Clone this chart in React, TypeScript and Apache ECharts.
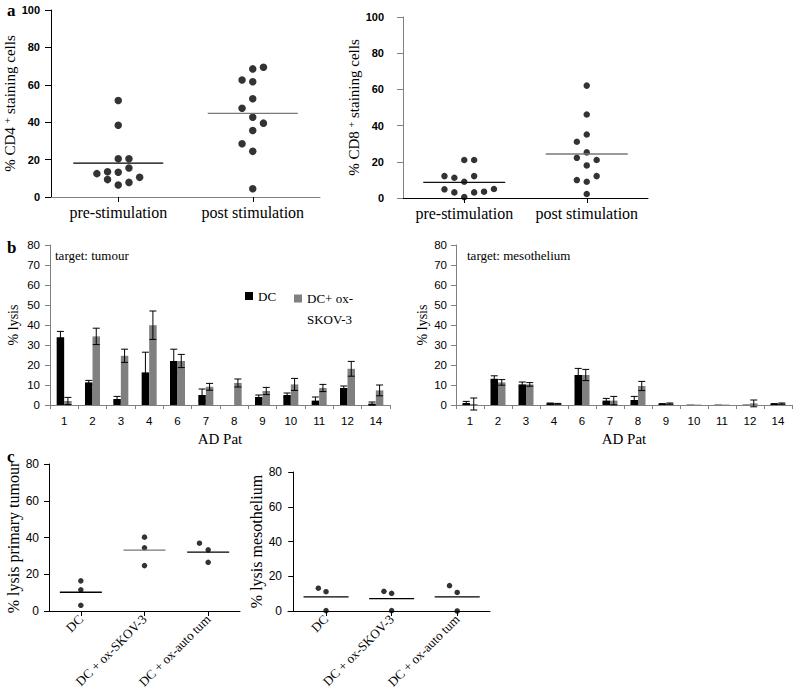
import React, { useEffect, useRef } from 'react';
import * as echarts from 'echarts';

const SERIF = '"Liberation Serif", "Times New Roman", serif';
const SANS = '"Liberation Sans", Arial, Helvetica, sans-serif';

// ---- Panel a ----
const stimGroups = ['pre-stimulation', 'post stimulation'];
const cd4Pre = [51.6, 38.4, 20.5, 20.5, 15.5, 12.5, 13.5, 13.2, 9.3, 10.5, 7.8, 6.4];
const cd4PreCols = [0, 0, 0, 1, 1, -2, -1, 0, -1, 2, 1, 0];
const cd4Post = [4.4, 24.4, 28.5, 35.6, 39.5, 42.7, 47.5, 52.5, 62.6, 61.6, 68.5, 69.4];
const cd4PostCols = [0, 0, -1, 0, 1, 0, -1, 0, -1, 0, 0, 1];
const cd4Means = [18.1, 44.7];
const cd8Pre = [21, 21, 12.1, 11.2, 12.1, 9, 4.8, 3.1, 3.1, 3.5, 5, 0.5];
const cd8PreCols = [0, 1, -2, -1, 1, 0, -2, -1, 1, 2, 3, 0];
const cd8Post = [62.1, 46.1, 35.1, 31.1, 25.2, 22.2, 21, 18, 12.1, 9.9, 9, 2.2];
const cd8PostCols = [0, 0, 0, -1, 0, -1, 1, 0, 1, -1, 0, 0];
const cd8Means = [8.6, 24.3];

// ---- Panel b ----
const adPatients = ['1', '2', '3', '4', '6', '7', '8', '9', '10', '11', '12', '14'];
const tumourDC = [33.9, 11.3, 3.0, 16.3, 22.0, 5.0, 0, 4.0, 5.0, 2.2, 8.5, 0.7];
const tumourDCErr = [2.9, 1.0, 1.3, 10.1, 5.9, 3.0, 0, 1.0, 1.0, 1.8, 1.0, 0.8];
const tumourOx = [2.0, 34.3, 24.6, 39.9, 22.0, 9.1, 11.0, 7.0, 10.3, 8.5, 18.1, 7.3];
const tumourOxErr = [1.8, 4.1, 3.3, 7.1, 3.3, 1.7, 2.0, 1.8, 3.0, 1.8, 3.7, 2.7];
const mesoDC = [1.0, 13.1, 10.3, 0.8, 15.0, 2.2, 2.5, 0.5, 0.2, 0.2, 0.2, 0.5];
const mesoDCErr = [0.8, 1.5, 1.2, 0.2, 3.3, 1.1, 1.8, 0.2, 0, 0, 0, 0.2];
const mesoOx = [0.5, 11.3, 10.3, 0.6, 15.0, 2.2, 9.5, 0.7, 0.2, 0.2, 0.8, 0.7];
const mesoOxErr = [3.0, 1.4, 0.9, 0.2, 2.8, 2.1, 2.3, 0.3, 0, 0, 1.7, 0.3];

// ---- Panel c ----
const lysisGroups = ['DC', 'DC + ox-SKOV-3', 'DC + ox-auto tum'];
const tumourLysis = [
  [16.4, 11.5, 3.1],
  [40.2, 34.4, 24.7],
  [36.9, 33.3, 26.5],
];
const tumourLysisCols = [
  [0, 0, 0],
  [0, 0, 0],
  [-1, 0, 0],
];
const tumourLysisMeans = [10.2, 33.1, 32.0];
const mesoLysis = [
  [13.1, 11.1, 0.2],
  [11.3, 10.2, 0.2],
  [14.6, 10.7, 0.0],
];
const mesoLysisCols = [
  [-1, 0, 0],
  [-1, 0, 0],
  [-1, 0, 0],
];
const mesoLysisMeans = [8.1, 7.1, 8.1];

const dots = (groupIdx: number, values: number[], cols: number[], spacing: number) =>
  values.map((v, i) => ({ value: [groupIdx + 0.5, v], symbolOffset: [cols[i] * spacing, 0] }));

const meanLines = (xi: number, means: number[], halfWidth: number, colors: string[]) => ({
  type: 'custom',
  xAxisIndex: xi,
  yAxisIndex: xi,
  z: 3,
  data: means.map((m, i) => [i + 0.5, m]),
  encode: { x: 0, y: 1 },
  renderItem: (params: any, api: any) => {
    const p = api.coord([api.value(0), api.value(1)]);
    return {
      type: 'line',
      shape: { x1: p[0] - halfWidth, y1: p[1], x2: p[0] + halfWidth, y2: p[1] },
      style: { stroke: colors[params.dataIndex], lineWidth: 1.3 },
    };
  },
});

const errBars = (xi: number, vals: number[], errs: number[], offset: number) => ({
  type: 'custom',
  xAxisIndex: xi,
  yAxisIndex: xi,
  z: 5,
  data: vals.map((v, i) => [i, v, errs[i]]),
  encode: { x: 0, y: 1 },
  renderItem: (params: any, api: any) => {
    const idx = api.value(0);
    const v = api.value(1) as number;
    const e = api.value(2) as number;
    if (!e) return { type: 'group', children: [] };
    const t = api.coord([idx, v + e]);
    const b = api.coord([idx, v - e]);
    const x = t[0] + offset;
    const cap = 3.5;
    const st = { stroke: '#000', lineWidth: 1 };
    return {
      type: 'group',
      children: [
        { type: 'line', shape: { x1: x, y1: t[1], x2: x, y2: b[1] }, style: st },
        { type: 'line', shape: { x1: x - cap, y1: t[1], x2: x + cap, y2: t[1] }, style: st },
        { type: 'line', shape: { x1: x - cap, y1: b[1], x2: x + cap, y2: b[1] }, style: st },
      ],
    };
  },
});

const groupXAxis = (gridIndex: number, names: string[], min: number, max: number, color: string, label: any) => {
  const centers = names.map((_, i) => i + 0.5);
  return {
    type: 'value',
    gridIndex,
    min,
    max,
    splitLine: { show: false },
    axisLine: { show: true, onZero: false, lineStyle: { color, width: 1 } },
    axisTick: { show: true, customValues: centers, length: 5, lineStyle: { color: '#000' } },
    axisLabel: {
      customValues: centers,
      formatter: (v: number) => names[Math.round(v - 0.5)] ?? '',
      color: '#000',
      ...label,
    },
  };
};

const yAxis = (gridIndex: number, max: number, interval: number, cfg: any) => ({
  type: 'value',
  gridIndex,
  min: 0,
  max,
  interval,
  splitLine: { show: false },
  axisLine: { show: true, lineStyle: { color: cfg.lineColor, width: 1 } },
  axisTick: { show: true, length: cfg.tickLen ?? 5, lineStyle: { color: cfg.lineColor } },
  axisLabel: {
    color: '#000',
    fontFamily: SANS,
    fontSize: cfg.fontSize,
    fontWeight: cfg.fontWeight ?? 'normal',
    margin: cfg.margin,
  },
  name: cfg.name,
  nameLocation: 'middle',
  nameRotate: 90,
  nameGap: cfg.nameGap,
  nameTextStyle: cfg.nameTextStyle,
});

const catXAxis = (gridIndex: number) => ({
  type: 'category',
  gridIndex,
  data: adPatients,
  axisLine: { show: true, lineStyle: { color: '#808080', width: 1 } },
  axisTick: { show: true, length: 4, lineStyle: { color: '#808080' } },
  axisLabel: { color: '#000', fontFamily: SANS, fontSize: 11.5, margin: 10, interval: 0 },
  name: 'AD Pat',
  nameLocation: 'middle',
  nameGap: 26,
  nameTextStyle: { fontFamily: SERIF, fontSize: 15, color: '#000' },
});

const serifName = (size: number) => ({ fontFamily: SERIF, fontSize: size, color: '#000' });

const supName = (cd: string) => ({
  name: `{t|% ${cd} }{s|+}{t| staining cells}`,
  nameTextStyle: {
    color: '#000',
    fontFamily: SERIF,
    rich: {
      t: { fontFamily: SERIF, fontSize: 15, color: '#000' },
      s: { fontFamily: SERIF, fontSize: 10, color: '#000', verticalAlign: 'top' },
    },
  },
});

export default function App() {
  const ref = useRef<HTMLDivElement>(null);
  useEffect(() => {
    document.body.style.margin = '0';
    const chart = echarts.init(ref.current!, null, { renderer: 'svg' });
    const option: any = {
      animation: false,
      backgroundColor: '#fff',
      grid: [
        { left: 51, top: 10, width: 269, height: 187 },
        { left: 403, top: 17, width: 245, height: 181 },
        { left: 50, top: 245, width: 340, height: 160 },
        { left: 456, top: 245, width: 336, height: 160 },
        { left: 49, top: 464, width: 191, height: 147 },
        { left: 288, top: 472, width: 202, height: 139 },
      ],
      legend: [
        {
          data: ['DC'],
          left: 245,
          top: 289.5,
          padding: 0,
          itemWidth: 8,
          itemHeight: 8,
          icon: 'rect',
          selectedMode: false,
          textStyle: { fontFamily: SERIF, fontSize: 13, color: '#000' },
        },
        {
          data: ['DC+ ox-SKOV-3'],
          left: 294,
          top: 267,
          padding: 0,
          itemWidth: 8,
          itemHeight: 8,
          icon: 'rect',
          selectedMode: false,
          formatter: () => '\nDC+ ox-\nSKOV-3',
          textStyle: { fontFamily: SERIF, fontSize: 13, color: '#000', lineHeight: 21 },
        },
      ],
      xAxis: [
        groupXAxis(0, stimGroups, 0, 2, '#808080', { fontFamily: SERIF, fontSize: 16, margin: 7 }),
        groupXAxis(1, stimGroups, 0, 2, '#000', { fontFamily: SERIF, fontSize: 16, margin: 7 }),
        catXAxis(2),
        catXAxis(3),
        groupXAxis(4, lysisGroups, 0, 3, '#000', { fontFamily: SERIF, fontSize: 13, rotate: 45, margin: 6 }),
        groupXAxis(5, lysisGroups, -0.08, 3, '#000', { fontFamily: SERIF, fontSize: 13, rotate: 45, margin: 6 }),
      ],
      yAxis: [
        yAxis(0, 100, 20, {
          lineColor: '#000', fontSize: 11, fontWeight: 'bold', margin: 11, tickLen: 6, nameGap: 31,
          ...supName('CD4'),
        }),
        yAxis(1, 100, 20, {
          lineColor: '#808080', fontSize: 11, fontWeight: 'bold', margin: 19, tickLen: 6, nameGap: 32,
          ...supName('CD8'),
        }),
        yAxis(2, 80, 10, {
          lineColor: '#808080', fontSize: 11.5, margin: 10, nameGap: 30,
          name: '% lysis', nameTextStyle: serifName(14),
        }),
        yAxis(3, 80, 10, {
          lineColor: '#808080', fontSize: 11.5, margin: 9, nameGap: 27,
          name: '% lysis', nameTextStyle: serifName(14),
        }),
        yAxis(4, 80, 20, {
          lineColor: '#000', fontSize: 12, margin: 10, nameGap: 27,
          name: '% lysis primary tumour', nameTextStyle: serifName(16),
        }),
        yAxis(5, 80, 20, {
          lineColor: '#000', fontSize: 12, margin: 6, nameGap: 20,
          name: '% lysis mesothelium', nameTextStyle: serifName(16),
        }),
      ],
      series: [
        // panel a left
        {
          type: 'scatter', xAxisIndex: 0, yAxisIndex: 0, symbolSize: 7.5,
          itemStyle: { color: '#000' },
          data: [...dots(0, cd4Pre, cd4PreCols, 10.7), ...dots(1, cd4Post, cd4PostCols, 10.7)],
        },
        meanLines(0, cd4Means, 45, ['#000', '#777']),
        // panel a right
        {
          type: 'scatter', xAxisIndex: 1, yAxisIndex: 1, symbolSize: 6.5,
          itemStyle: { color: '#000' },
          data: [...dots(0, cd8Pre, cd8PreCols, 9.9), ...dots(1, cd8Post, cd8PostCols, 9.9)],
        },
        meanLines(1, cd8Means, 41, ['#111', '#777']),
        // panel b left
        {
          type: 'bar', name: 'DC', xAxisIndex: 2, yAxisIndex: 2, barWidth: 7.5, barGap: '0%',
          itemStyle: { color: '#000' }, data: tumourDC,
        },
        {
          type: 'bar', name: 'DC+ ox-SKOV-3', xAxisIndex: 2, yAxisIndex: 2, barWidth: 7.5, barGap: '0%',
          itemStyle: { color: '#808080' }, data: tumourOx,
        },
        errBars(2, tumourDC, tumourDCErr, -3.75),
        errBars(2, tumourOx, tumourOxErr, 3.75),
        // panel b right
        {
          type: 'bar', name: 'DC', xAxisIndex: 3, yAxisIndex: 3, barWidth: 7.5, barGap: '0%',
          itemStyle: { color: '#000' }, data: mesoDC,
        },
        {
          type: 'bar', name: 'DC+ ox-SKOV-3', xAxisIndex: 3, yAxisIndex: 3, barWidth: 7.5, barGap: '0%',
          itemStyle: { color: '#808080' }, data: mesoOx,
        },
        errBars(3, mesoDC, mesoDCErr, -3.75),
        errBars(3, mesoOx, mesoOxErr, 3.75),
        // panel c left
        {
          type: 'scatter', xAxisIndex: 4, yAxisIndex: 4, symbolSize: 5.5,
          itemStyle: { color: '#000' },
          data: tumourLysis.flatMap((vals, g) => dots(g, vals, tumourLysisCols[g], 8.7)),
        },
        meanLines(4, tumourLysisMeans, 21, ['#000', '#777', '#000']),
        // panel c right
        {
          type: 'scatter', xAxisIndex: 5, yAxisIndex: 5, symbolSize: 5.5,
          itemStyle: { color: '#000' },
          data: mesoLysis.flatMap((vals, g) => dots(g, vals, mesoLysisCols[g], 7.7)),
        },
        meanLines(5, mesoLysisMeans, 22.5, ['#000', '#000', '#000']),
      ],
      graphic: [
        { type: 'text', left: 7, top: 2, style: { text: 'a', font: `bold 17px ${SERIF}`, fill: '#000' } },
        { type: 'text', left: 7, top: 239, style: { text: 'b', font: `bold 17px ${SERIF}`, fill: '#000' } },
        { type: 'text', left: 7, top: 448, style: { text: 'c', font: `bold 17px ${SERIF}`, fill: '#000' } },
        { type: 'text', left: 55, top: 249, style: { text: 'target: tumour', font: `13px ${SERIF}`, fill: '#000' } },
        { type: 'text', left: 467, top: 249, style: { text: 'target: mesothelium', font: `13px ${SERIF}`, fill: '#000' } },
      ],
    };
    chart.setOption(option);
    return () => chart.dispose();
  }, []);
  return <div ref={ref} style={{ position: 'absolute', left: 0, top: 0, width: 793, height: 692 }} />;
}
